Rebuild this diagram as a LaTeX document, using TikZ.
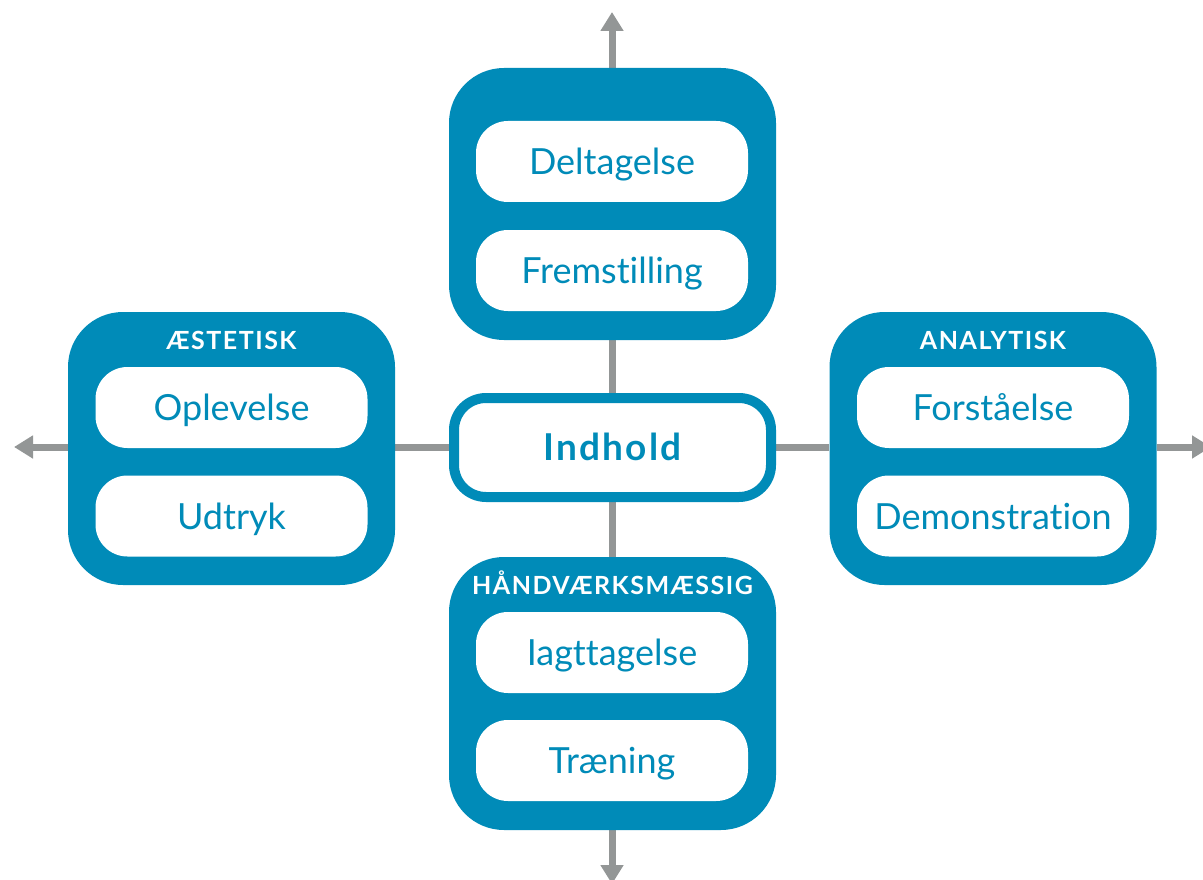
\documentclass[tikz,border=0pt]{standalone}
\usepackage{fontspec}
\setmainfont{Lato}[Ligatures=NoCommon]
\newfontfamily\titlefont{Lato}[Ligatures=NoCommon,LetterSpace=6]
\newfontfamily\centerfont{Lato}[Ligatures=NoCommon,LetterSpace=6]
\usetikzlibrary{arrows.meta,backgrounds}
\definecolor{tblue}{HTML}{008BB8}
\definecolor{tgray}{HTML}{939696}
\begin{document}
\begin{tikzpicture}[x=1pt,y=-1pt,
  outerbox/.style={fill=tblue,draw=none,rounded corners=55pt,minimum width=327pt,minimum height=273pt,inner sep=0pt},
  innerbox/.style={fill=white,draw=none,rounded corners=32pt,minimum width=272pt,minimum height=81pt,inner sep=0pt,
    text=tblue,font=\fontsize{36}{40}\selectfont,text height=26pt,text depth=0pt},
  titlelbl/.style={text=white,font=\titlefont\bfseries\fontsize{25}{28}\selectfont,inner sep=0pt,text height=18pt,text depth=0pt},
  centerbox/.style={fill=white,draw=tblue,line width=10pt,rounded corners=32pt,minimum width=317pt,minimum height=99pt,inner sep=0pt,
    text=tblue,font=\centerfont\bfseries\fontsize{37}{40}\selectfont,text height=26pt,text depth=0pt},
  conn/.style={draw=tgray,line width=7pt},
  arr/.style={conn,-{Triangle[width=22pt,length=19pt]},tgray}]
\useasboundingbox (0,0) rectangle (1203,880);
% outer boxes
\node[outerbox,minimum height=272pt] (top) at (612.5,204) {};
\node[outerbox] (left) at (231.5,448.5) {};
\node[outerbox] (right) at (993,448.5) {};
\node[outerbox] (bottom) at (612.5,693.5) {};
% center
\node[centerbox] (center) at (612.5,447.5) {Indhold};
% inner boxes
\node[innerbox] (deltagelse) at (612,161.5) {Deltagelse};
\node[innerbox] (fremstilling) at (612,270.5) {Fremstilling};
\node[innerbox] (oplevelse) at (231.5,407.5) {Oplevelse};
\node[innerbox] (udtryk) at (231.5,516) {Udtryk};
\node[innerbox] (forstaaelse) at (993,407.5) {Forståelse};
\node[innerbox] (demonstration) at (993,516) {Demonstration};
\node[innerbox] (iagttagelse) at (612,652.5) {Iagttagelse};
\node[innerbox] (traening) at (612,760.5) {Træning};
% titles
\node[titlelbl] (t1) at (231.5,340) {ÆSTETISK};
\node[titlelbl] (t2) at (993,340) {ANALYTISK};
\node[titlelbl] (t3) at (612.5,585) {HÅNDVÆRKSMÆSSIG};
% arrow tips
\coordinate (toptip) at (612,12);
\coordinate (lefttip) at (14,447);
\coordinate (righttip) at (1211,447);
\coordinate (bottomtip) at (612,884);
\begin{pgfonlayer}{background}
\draw[conn] (center.center |- top.south) -- (center);
\draw[conn] (center.center |- bottom.north) -- (center);
\draw[conn] (left.east |- center.center) -- (center);
\draw[conn] (right.west |- center.center) -- (center);
\draw[arr] (top.north -| toptip) -- (toptip);
\draw[arr] (bottom.south -| bottomtip) -- (bottomtip);
\draw[arr] (left.west |- lefttip) -- (lefttip);
\draw[arr] (right.east |- righttip) -- (righttip);
\end{pgfonlayer}
\end{tikzpicture}
\end{document}
